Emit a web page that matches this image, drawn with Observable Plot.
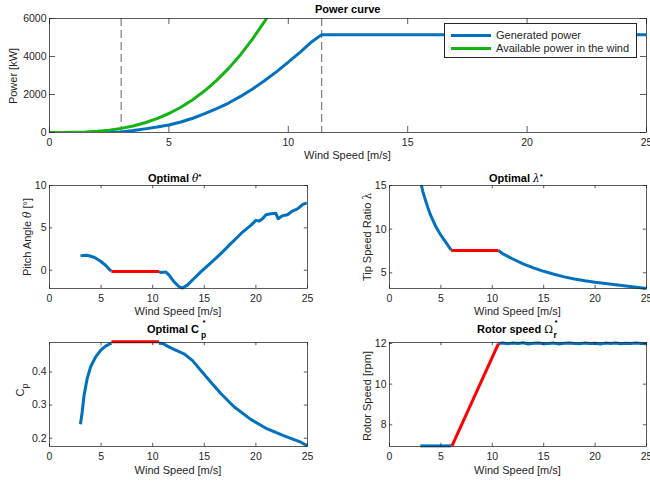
<!DOCTYPE html>
<html><head><meta charset="utf-8">
<script src="https://cdn.jsdelivr.net/npm/d3@7"></script>
<script src="https://cdn.jsdelivr.net/npm/@observablehq/plot@0.6"></script>
<style>
body{margin:0;background:#fff;}
#fig{position:relative;width:650px;height:483px;overflow:hidden;background:#fff;font-family:"Liberation Sans",Arial,Helvetica,sans-serif;color:#262626;}
#fig svg{position:absolute;left:0;top:0;}
.t{position:absolute;font-weight:bold;font-size:11px;line-height:11px;white-space:nowrap;color:#000;}
.g{font-weight:normal;font-family:"DejaVu Serif",serif;font-style:italic;font-size:10.5px;}
.star{position:relative;font-weight:bold;font-size:8px;}
.sub{position:relative;font-size:8.5px;}
.xl{position:absolute;font-size:11px;line-height:13px;white-space:nowrap;transform:translateX(-50%);color:#262626;}
.yl{position:absolute;font-size:11px;line-height:13px;white-space:nowrap;transform:translate(-50%,-50%) rotate(-90deg);color:#262626;}
.leg{position:absolute;left:444px;top:23px;width:191px;height:33px;border:0.8px solid #262626;background:#fff;}
.leg .ln{position:absolute;left:6px;width:40px;height:3px;}
.leg .tx{position:absolute;left:51px;font-size:11px;line-height:13px;white-space:nowrap;color:#262626;}
</style></head><body><div id="fig"></div>
<script>
// ---------- data ----------
const xTicks = [0, 5, 10, 15, 20, 25];

// Power curve
const windGenerated = [0, 2.5, 3, 3.5, 4, 4.5, 5, 5.5, 6, 6.5, 7, 7.5, 8, 8.5, 9, 9.5, 10, 10.5, 11, 11.4, 25];
const powerGenerated = [0, 0, 30, 100, 190, 285, 395, 550, 750, 990, 1255, 1550, 1900, 2290, 2720, 3190, 3700, 4230, 4790, 5150, 5150];
const windAvailable = [0, 0.5, 1, 1.5, 2, 2.5, 3, 3.5, 4, 4.5, 5, 5.5, 6, 6.5, 7, 7.5, 8, 8.5, 9, 9.2];
const powerAvailable = [0, 1, 8, 27, 64, 125, 216, 343, 512, 729, 1000, 1331, 1728, 2197, 2744, 3375, 4096, 4913, 5832, 6229];
const regionLimits = [3, 11.4];
const powerTicks = [0, 2000, 4000, 6000];

// Optimal pitch
const pitchWindLow = [3.0, 3.3, 3.65, 4.0, 4.46, 4.95, 5.43, 5.98];
const pitchLow = [1.69, 1.75, 1.76, 1.65, 1.45, 1.06, 0.59, -0.12];
const pitchWindOpt = [6.0, 10.6];
const pitchOpt = [-0.15, -0.15];
const pitchWindHigh = [10.6, 10.77, 11.26, 11.59, 12.07, 12.55, 12.88, 13.36, 14.0, 14.66, 15.63, 16.6, 17.57, 18.54, 19.5, 20.0, 20.32, 20.64, 20.97, 21.45, 21.93, 22.15, 22.57, 23.06, 23.54, 24.03, 24.51, 24.93];
const pitchHigh = [-0.15, -0.27, -0.2, -0.59, -1.37, -1.96, -2.1, -1.76, -0.98, -0.2, 0.86, 1.96, 3.14, 4.31, 5.29, 5.88, 5.8, 6.08, 6.55, 6.67, 6.71, 6.08, 6.43, 6.55, 6.98, 7.25, 7.73, 7.96];
const pitchTicks = [0, 5, 10];

// Optimal tip speed ratio
const tsrWindLow = [3, 3.25, 3.5, 3.75, 4, 4.5, 5, 5.5, 6];
const tsrLow = [15.5, 14.3, 13.3, 12.4, 11.6, 10.3, 9.3, 8.45, 7.6];
const tsrWindOpt = [6.0, 10.6];
const tsrOpt = [7.55, 7.55];
const tsrWindHigh = [10.6, 11, 12, 13, 14, 15, 16, 17, 18, 19, 20, 21, 22, 23, 24, 25];
const tsrHigh = [7.55, 7.2, 6.58, 6.02, 5.56, 5.17, 4.83, 4.53, 4.29, 4.08, 3.91, 3.77, 3.63, 3.49, 3.34, 3.2];
const tsrTicks = [5, 10, 15];

// Optimal Cp
const cpWindLow = [3, 3.17, 3.33, 3.5, 3.65, 3.98, 4.46, 4.95, 5.43, 6.0];
const cpLow = [0.242, 0.28, 0.325, 0.355, 0.38, 0.415, 0.445, 0.465, 0.478, 0.487];
const cpWindOpt = [6.0, 10.6];
const cpOpt = [0.491, 0.491];
const cpWindHigh = [10.6, 11.0, 11.42, 12.06, 13.03, 13.84, 14.65, 15.62, 16.6, 17.88, 19.5, 21.1, 22.74, 24.35, 25];
const cpHigh = [0.487, 0.486, 0.478, 0.468, 0.455, 0.435, 0.405, 0.37, 0.335, 0.295, 0.257, 0.228, 0.207, 0.188, 0.177];
const cpTicks = [0.2, 0.3, 0.4];

// Rotor speed
const rotorWindLow = [3.0, 6.0];
const rotorLow = [6.96, 6.96];
const rotorWindOpt = [6.08, 10.6];
const rotorOpt = [6.96, 12.0];
const rotorWindHigh = [10.6, 11, 11.5, 12, 12.5, 13, 13.5, 14, 14.5, 15, 15.5, 16, 16.5, 17, 17.5, 18, 18.5, 19, 19.5, 20, 20.5, 21, 21.5, 22, 22.5, 23, 23.5, 24, 24.5, 25];
const rotorHigh = [12.0, 12.03, 11.99, 12.02, 12.0, 12.04, 11.98, 12.01, 12.03, 11.99, 12.0, 12.02, 11.98, 12.01, 12.03, 12.0, 11.99, 12.02, 12.0, 12.01, 11.98, 12.02, 12.0, 12.03, 11.99, 12.01, 12.0, 12.02, 12.0, 11.99];
const rotorTicks = [8, 10, 12];

// ---------- drawing ----------
const INK = "#262626", BLUE = "#0072BD", GREEN = "#14b414", RED = "#ff0000";
const FONT = "'Liberation Sans', Arial, Helvetica, sans-serif";
const W = 650, H = 483;
const zip = (xs, ys) => xs.map((x, i) => ({x, y: ys[i]}));
const series = (xs, ys, stroke, clip = false) => Plot.line(zip(xs, ys), {x: "x", y: "y", stroke, strokeWidth: 3, strokeLinejoin: "round", strokeLinecap: "butt", clip: clip ? "frame" : false});

function panel({left, right, top, bottom, yDomain, yTicks, tickLen, marks}) {
  const fw = right - left, fh = bottom - top;
  const tk = {stroke: INK, strokeWidth: 0.75};
  return Plot.plot({
    width: W, height: H,
    marginLeft: left, marginRight: W - right, marginTop: top, marginBottom: H - bottom,
    x: {domain: [0, 25]}, y: {domain: yDomain},
    style: {background: "none", color: INK, fontFamily: FONT, overflow: "visible"},
    marks: [
      ...marks,
      Plot.frame({stroke: INK, strokeWidth: 0.75}),
      Plot.tickX(xTicks, {x: d => d, ...tk, insetTop: fh - tickLen}),
      Plot.tickX(xTicks, {x: d => d, ...tk, insetBottom: fh - tickLen}),
      Plot.tickY(yTicks, {y: d => d, ...tk, insetRight: fw - tickLen}),
      Plot.tickY(yTicks, {y: d => d, ...tk, insetLeft: fw - tickLen}),
      Plot.axisX(xTicks, {tickSize: 0, tickPadding: 6, fontSize: 10.5, label: null, tickFormat: d => String(d)}),
      Plot.axisY(yTicks, {tickSize: 0, tickPadding: 3, fontSize: 10.5, label: null, tickFormat: d => String(d)})
    ]
  });
}

const fig = document.getElementById("fig");

fig.appendChild(panel({
  left: 49, right: 646, top: 18, bottom: 132, yDomain: [0, 6000], yTicks: powerTicks, tickLen: 6,
  marks: [
    Plot.ruleX(regionLimits, {x: d => d, stroke: "#3a3a3a", strokeWidth: 0.8, strokeDasharray: "8,4"}),
    series(windGenerated, powerGenerated, BLUE, true),
    series(windAvailable, powerAvailable, GREEN, true)
  ]
}));

fig.appendChild(panel({
  left: 49, right: 307, top: 185, bottom: 288, yDomain: [-2.16, 10], yTicks: pitchTicks, tickLen: 3.2,
  marks: [
    series(pitchWindLow, pitchLow, BLUE),
    series(pitchWindHigh, pitchHigh, BLUE),
    series(pitchWindOpt, pitchOpt, RED)
  ]
}));

fig.appendChild(panel({
  left: 389, right: 646, top: 185, bottom: 288, yDomain: [3.2, 15], yTicks: tsrTicks, tickLen: 3.2,
  marks: [
    series(tsrWindLow, tsrLow, BLUE, true),
    series(tsrWindHigh, tsrHigh, BLUE),
    series(tsrWindOpt, tsrOpt, RED)
  ]
}));

fig.appendChild(panel({
  left: 49, right: 307, top: 342, bottom: 446, yDomain: [0.175, 0.489], yTicks: cpTicks, tickLen: 3.2,
  marks: [
    series(cpWindLow, cpLow, BLUE),
    series(cpWindHigh, cpHigh, BLUE),
    series(cpWindOpt, cpOpt, RED)
  ]
}));

fig.appendChild(panel({
  left: 389, right: 646, top: 342, bottom: 446, yDomain: [6.93, 12.05], yTicks: rotorTicks, tickLen: 3.2,
  marks: [
    series(rotorWindLow, rotorLow, BLUE),
    series(rotorWindHigh, rotorHigh, BLUE),
    series(rotorWindOpt, rotorOpt, RED)
  ]
}));

// titles, axis labels and legend (HTML text)
const html = `
<div class="t" style="left:315px;top:4px">Power curve</div>
<div class="t" style="left:148px;top:173px">Optimal&nbsp;<span class="g">θ</span><span class="star" style="top:-3px">*</span></div>
<div class="t" style="left:489px;top:173px">Optimal&nbsp;<span class="g">λ</span><span class="star" style="top:-3px">*</span></div>
<div class="t" style="left:147px;top:324px">Optimal C<span class="star" style="top:-8px;display:inline-block;width:0;left:3.5px">*</span><span class="sub" style="top:5px;left:2px">p</span></div>
<div class="t" style="left:477px;top:324px">Rotor speed&nbsp;<span class="g" style="font-style:normal">Ω</span><span class="star" style="top:-8px;display:inline-block;width:0;left:1.5px">*</span><span class="sub" style="top:5px;left:0.5px">r</span></div>

<div class="xl" style="left:347.5px;top:149.4px">Wind Speed [m/s]</div>
<div class="xl" style="left:178px;top:304.5px">Wind Speed [m/s]</div>
<div class="xl" style="left:517.5px;top:304.5px">Wind Speed [m/s]</div>
<div class="xl" style="left:178px;top:464.3px">Wind Speed [m/s]</div>
<div class="xl" style="left:517.5px;top:464.3px">Wind Speed [m/s]</div>

<div class="yl" style="left:13.3px;top:76px">Power [kW]</div>
<div class="yl" style="left:26.5px;top:237px">Pitch Angle <span class="g" style="font-size:10.5px">θ</span> [°]</div>
<div class="yl" style="left:366.5px;top:236.5px">Tip Speed Ratio <span class="g" style="font-style:normal">λ</span></div>
<div class="yl" style="left:20.5px;top:390px">C<span style="position:relative;top:4px;font-size:9px">p</span></div>
<div class="yl" style="left:366.5px;top:396px">Rotor Speed [rpm]</div>

<div class="leg">
  <div class="ln" style="top:9.8px;background:${BLUE}"></div><div class="tx" style="top:4.8px">Generated power</div>
  <div class="ln" style="top:23.2px;background:${GREEN}"></div><div class="tx" style="top:18.2px">Available power in the wind</div>
</div>`;
fig.insertAdjacentHTML("beforeend", html);
</script>
</body></html>
